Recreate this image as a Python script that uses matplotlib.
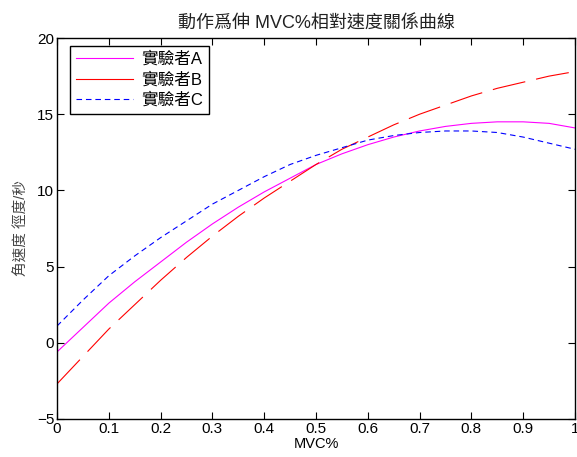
import matplotlib
matplotlib.use('Agg')
import matplotlib.pyplot as plt

plt.rcParams['font.family'] = ['Liberation Sans', 'Noto Sans CJK TC']

# MVC% points
mvc = [0.0, 0.05, 0.1, 0.15, 0.2, 0.25, 0.3, 0.35, 0.4, 0.45, 0.5,
       0.55, 0.6, 0.65, 0.7, 0.75, 0.8, 0.85, 0.9, 0.95, 1.0]

# angular velocity
sujeito_a = [-0.6, 1.0, 2.6, 4.0, 5.3, 6.6, 7.8, 8.9, 9.9, 10.8, 11.7,
             12.4, 13.0, 13.5, 13.9, 14.2, 14.4, 14.5, 14.5, 14.4, 14.1]
sujeito_b = [-2.7, -0.9, 0.9, 2.5, 4.1, 5.6, 7.0, 8.3, 9.5, 10.6, 11.7,
             12.7, 13.5, 14.3, 15.0, 15.6, 16.2, 16.7, 17.1, 17.5, 17.8]
sujeito_c = [1.1, 2.8, 4.4, 5.7, 6.9, 8.0, 9.1, 10.0, 10.9, 11.7, 12.3,
             12.8, 13.3, 13.6, 13.8, 13.9, 13.9, 13.8, 13.5, 13.1, 12.7]

nomes = ['實驗者A', '實驗者B', '實驗者C']
x_ticks = [0, 0.1, 0.2, 0.3, 0.4, 0.5, 0.6, 0.7, 0.8, 0.9, 1]
x_labels = ['0', '0.1', '0.2', '0.3', '0.4', '0.5', '0.6', '0.7', '0.8', '0.9', '1']
y_ticks = [-5, 0, 5, 10, 15, 20]

fig = plt.figure(figsize=(5.77, 4.57), dpi=100)
ax = fig.add_axes([0.0988, 0.0832, 0.8977, 0.8336])

ax.plot(mvc, sujeito_a, color='#ff00ff', linewidth=0.8, label=nomes[0])
lb, = ax.plot(mvc, sujeito_b, color='red', linewidth=0.8, label=nomes[1])
lb.set_dashes([30, 10])
lc, = ax.plot(mvc, sujeito_c, color='blue', linewidth=0.8, label=nomes[2])
lc.set_dashes([5, 3.5])

ax.set_xlim(0, 1)
ax.set_ylim(-5, 20)
ax.set_xticks(x_ticks)
ax.set_xticklabels(x_labels)
ax.set_yticks(y_ticks)
ax.tick_params(direction='in', top=True, right=True, length=5, width=0.8, labelsize=11, pad=2)
for s in ax.spines.values():
    s.set_linewidth(1.0)

ax.set_title('動作爲伸 MVC%相對速度關係曲線', fontsize=13, color='#222222', pad=7)
ax.set_xlabel('MVC%', fontsize=10.5, labelpad=1)
ax.set_ylabel('角速度 徑度/秒', fontsize=10.5, color='#444444', labelpad=6)

leg = ax.legend(loc='upper left', bbox_to_anchor=(0.026, 0.98), fontsize=12,
                frameon=True, fancybox=False, framealpha=1, edgecolor='black',
                handlelength=3.4, borderpad=0.35, labelspacing=0.28, handletextpad=0.5,
                borderaxespad=0)
leg.get_frame().set_linewidth(1.0)
leg.get_lines()[1].set_linestyle('-')

fig.savefig('out.png', dpi=100)
